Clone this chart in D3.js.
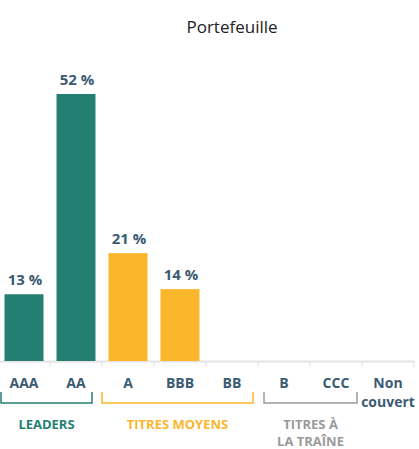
<!DOCTYPE html>
<html>
<head>
<meta charset="utf-8">
<script src="https://cdn.jsdelivr.net/npm/d3@7"></script>
<style>
  body { margin: 0; background: #fff; }
  text { font-family: "Open Sans", sans-serif; }
</style>
</head>
<body>
<div id="container"></div>
<script>
let w = 419;
let h = 449;

let categories = ["AAA", "AA", "A", "BBB", "BB", "B", "CCC", "Non couvert"];
let values = [13, 52, 21, 14, 0, 0, 0, 0];
let groupOf = ["leaders", "leaders", "moyens", "moyens", "moyens", "traine", "traine", "none"];

let groupNames = ["leaders", "moyens", "traine"];
let groupLabels = [["LEADERS"], ["TITRES MOYENS"], ["TITRES À", "LA TRAÎNE"]];
let groupStart = ["AAA", "A", "B"];
let groupEnd = ["AA", "BB", "CCC"];
let groupColors = ["#237f72", "#fbb62c", "#9a9a9a"];

let title = "Portefeuille";

let labelColor = "#3b5b73";
let baseY = 361;

// small pixel nudges so the brackets sit like the original
let bracketPadL = [3, 0, 6];
let bracketPadR = [10, 5, 5];

let viz = d3.select("#container")
  .append("svg")
  .attr("width", w)
  .attr("height", h);

let xScale = d3.scaleBand().domain(categories).range([-2, 414]).paddingInner(0.25).paddingOuter(0.125);
let yScale = d3.scaleLinear().domain([0, 52]).range([baseY, 94]);
let band = d3.scaleBand().domain(categories).range([-2, 414]);

let colorOf = function (g) {
  let i = groupNames.indexOf(g);
  return i >= 0 ? groupColors[i] : "#999";
};

// title
viz.append("text")
  .attr("x", 232)
  .attr("y", 33)
  .attr("text-anchor", "middle")
  .attr("font-size", 17)
  .attr("fill", "#222")
  .text(title);

// axis line + ticks between categories
let axisG = viz.append("g").attr("transform", "translate(0," + baseY + ")");
axisG.append("line")
  .attr("x1", 0).attr("x2", 414)
  .attr("y1", 0.5).attr("y2", 0.5)
  .attr("stroke", "#e3e3e3")
  .attr("stroke-width", 2);
axisG.selectAll(".tick")
  .data(categories.slice(1).concat(["end"]))
  .enter()
  .append("line")
  .attr("x1", function (d) { return d === "end" ? 414 : band(d); })
  .attr("x2", function (d) { return d === "end" ? 414 : band(d); })
  .attr("y1", 0)
  .attr("y2", 6)
  .attr("stroke", "#e3e3e3")
  .attr("stroke-width", 1.2);

// bars
viz.selectAll(".bar")
  .data(values)
  .enter()
  .append("rect")
  .attr("x", function (d, i) { return xScale(categories[i]); })
  .attr("y", function (d) { return yScale(d); })
  .attr("width", xScale.bandwidth())
  .attr("height", function (d) { return baseY - yScale(d); })
  .attr("fill", function (d, i) { return colorOf(groupOf[i]); });

// value labels
viz.selectAll(".val")
  .data(values.filter(function (d) { return d > 0; }))
  .enter()
  .append("text")
  .attr("x", function (d, i) { return xScale(categories[i]) + xScale.bandwidth() / 2 + 1; })
  .attr("y", function (d) { return yScale(d) - 9; })
  .attr("text-anchor", "middle")
  .attr("font-size", 15)
  .attr("font-weight", "bold")
  .attr("fill", labelColor)
  .text(function (d) { return d + " %"; });

// category labels
let cat = viz.selectAll(".cat")
  .data(categories)
  .enter()
  .append("text")
  .attr("text-anchor", "middle")
  .attr("font-size", 14)
  .attr("font-weight", "bold")
  .attr("fill", labelColor)
  .attr("y", 388);
cat.each(function (d) {
  let words = d === "Non couvert" ? ["Non", "couvert"] : [d];
  let t = d3.select(this);
  words.forEach(function (wd, j) {
    t.append("tspan")
      .attr("x", band(d) + band.bandwidth() / 2)
      .attr("dy", j === 0 ? 0 : 19)
      .text(wd);
  });
});

// group brackets and labels
groupNames.forEach(function (g, i) {
  let x0 = band(groupStart[i]) + bracketPadL[i];
  let x1 = band(groupEnd[i]) + band.bandwidth() - bracketPadR[i];
  viz.append("path")
    .attr("d", "M" + x0 + ",392 V403 H" + x1 + " V392")
    .attr("fill", "none")
    .attr("stroke", groupColors[i])
    .attr("stroke-width", 1.5);
  let t = viz.append("text")
    .attr("text-anchor", "middle")
    .attr("font-size", 13)
    .attr("font-weight", "bold")
    .attr("fill", groupColors[i])
    .attr("y", 429);
  groupLabels[i].forEach(function (line, j) {
    t.append("tspan")
      .attr("x", (x0 + x1) / 2)
      .attr("dy", j === 0 ? 0 : 17)
      .text(line);
  });
});
</script>
</body>
</html>
